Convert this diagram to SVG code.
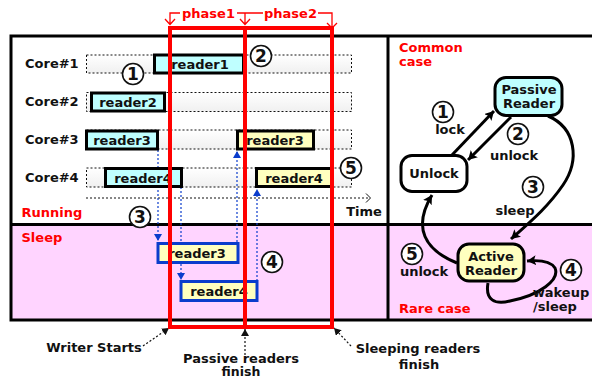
<svg xmlns="http://www.w3.org/2000/svg" width="592" height="379" viewBox="0 0 592 379">
<style>
text{font-family:"DejaVu Sans",Verdana,sans-serif;font-weight:700;font-size:13px;fill:#111;text-anchor:middle}
.l{text-anchor:start}
.red{fill:#f00;text-anchor:start}
.ph{fill:#f00;font-size:13px;text-anchor:start}
.lane{fill:url(#g);stroke:#111;stroke-width:1;stroke-dasharray:2 2}
.rc{fill:#bfffff;stroke:#000;stroke-width:3}
.ry{fill:#ffffbf;stroke:#000;stroke-width:3}
.rb{fill:#ffffbf;stroke:#0a3ccc;stroke-width:3}
.blue{fill:none;stroke:#0a3ccc;stroke-width:1.2;stroke-dasharray:2 2}
.blk{fill:none;stroke:#000;stroke-width:3}
.dash{fill:none;stroke:#111;stroke-width:1.2;stroke-dasharray:2 2}
.brk{fill:none;stroke:#f00;stroke-width:1.3}
.c{fill:#fff;stroke:#111;stroke-width:1.6}
.n{font-size:17px}
</style>
<defs>
<linearGradient id="g" x1="0" y1="0" x2="0" y2="1"><stop offset="0" stop-color="#fff"/><stop offset="1" stop-color="#f0f0f0"/></linearGradient>
<marker id="ab" markerUnits="userSpaceOnUse" markerWidth="10" markerHeight="8" refX="7" refY="4" orient="auto"><path d="M0 0L7 4L0 8z" fill="#0a3ccc"/></marker>
<marker id="ak" markerUnits="userSpaceOnUse" markerWidth="12" markerHeight="10" refX="9" refY="5" orient="auto"><path d="M0 0L9 5L0 10L2 5z" fill="#000"/></marker>
<marker id="ad" markerUnits="userSpaceOnUse" markerWidth="9" markerHeight="8" refX="7" refY="4" orient="auto"><path d="M0 0L7 4L0 8z" fill="#111"/></marker>
</defs>

<g id="panels">
<rect x="11" y="224" width="581" height="96" fill="#ffd4ff"/>
<path d="M592 36H11V320H592M388 36V320M11 224.500H592" fill="none" stroke="#000" stroke-width="3"/>
</g>

<g id="lanes">
<rect class="lane" x="86.500" y="55" width="265" height="18"/>
<rect class="lane" x="86.500" y="92.500" width="265" height="19"/>
<rect class="lane" x="86.500" y="130" width="265" height="19"/>
<rect class="lane" x="86.500" y="168" width="265" height="19"/>
</g>

<g id="labels-left">
<text class="l" x="25" y="68">Core#1</text>
<text class="l" x="25" y="106">Core#2</text>
<text class="l" x="25" y="144">Core#3</text>
<text class="l" x="25" y="182">Core#4</text>
<text class="red" x="21.500" y="217">Running</text>
<text class="red" x="21.500" y="242">Sleep</text>
<text x="364" y="216">Time</text>
</g>

<g id="connectors">
<path class="dash" d="M86 198H369"/>
<path d="M366 193.500L370.500 198L366 202.500" fill="none" stroke="#111" stroke-width="1"/>
<path class="blue" d="M158 150V241" marker-end="url(#ab)"/>
<path class="blue" d="M181 187V243M181 264V280" marker-end="url(#ab)"/>
<path class="blue" d="M237 242V151" marker-end="url(#ab)"/>
<path class="blue" d="M257 281V189" marker-end="url(#ab)"/>
<path class="dash" d="M143 346L169 328" marker-end="url(#ad)"/>
<path class="dash" d="M245 355V329" marker-end="url(#ad)"/>
<path class="dash" d="M351 346L334 328" marker-end="url(#ad)"/>
<path class="blk" d="M452 155L494 111" marker-end="url(#ak)"/>
<path class="blk" d="M511 117L468 160" marker-end="url(#ak)"/>
<path class="blk" d="M548 116C576 128 580 160 563 185C548 207 530 222 511 239" marker-end="url(#ak)"/>
<path class="blk" d="M457 263C425 250 412 228 432 195" marker-end="url(#ak)"/>
<path class="blk" d="M488 283C485 300 495 305 510 301C540 295 560 280 555 268C550 260 538 260 527 261" marker-end="url(#ak)"/>
</g>

<g id="reader1"><rect class="rc" x="154.500" y="55" width="89" height="18"/><text x="200" y="69">reader1</text></g>
<g id="reader2"><rect class="rc" x="91.500" y="93" width="73" height="18"/><text x="128" y="107">reader2</text></g>
<g id="reader3-run"><rect class="rc" x="86.500" y="131" width="71" height="18"/><text x="122" y="145">reader3</text></g>
<g id="reader4-run"><rect class="rc" x="105.500" y="168.500" width="76" height="18"/><text x="143" y="183">reader4</text></g>
<g id="reader3-wake"><rect class="ry" x="237.500" y="131" width="76" height="18"/><text x="275" y="145">reader3</text></g>
<g id="reader4-wake"><rect class="ry" x="256.500" y="168.500" width="76" height="18"/><text x="294" y="183">reader4</text></g>
<g id="reader3-sleep"><rect class="rb" x="158" y="243.500" width="80" height="19"/><text x="197" y="258">reader3</text></g>
<g id="reader4-sleep"><rect class="rb" x="181" y="281.500" width="76" height="19"/><text x="219" y="296">reader4</text></g>

<g id="phases">
<path d="M170 28H332V327H170zM245 28V327" fill="none" stroke="#f00" stroke-width="4"/>
<path class="brk" d="M180 13H170V24M165 19L170 24.500L175 19M237 13H263M245 13V24M240 19L245 24.500L250 19M318 13H332V27M327 23L332 28L337 23"/>
<text class="ph" x="182" y="18">phase1</text>
<text class="ph" x="264" y="18">phase2</text>
</g>

<g id="num1"><circle class="c" cx="133" cy="74" r="10.500"/><text class="n" x="133" y="80">1</text></g>
<g id="num2"><circle class="c" cx="261" cy="56" r="10.500"/><text class="n" x="261" y="62">2</text></g>
<g id="num3"><circle class="c" cx="140" cy="217" r="10.500"/><text class="n" x="140" y="223">3</text></g>
<g id="num4"><circle class="c" cx="272" cy="262" r="10.500"/><text class="n" x="272" y="268">4</text></g>
<g id="num5"><circle class="c" cx="351" cy="168" r="10.500"/><text class="n" x="351" y="174">5</text></g>

<g id="labels-bottom">
<text x="94" y="352">Writer Starts</text>
<text x="241" y="363">Passive readers</text>
<text x="241" y="375.500" style="font-size:12.500px">finish</text>
<text x="418" y="353">Sleeping readers</text>
<text x="419" y="369">finish</text>
</g>

<g id="labels-right">
<text class="red" x="399" y="52">Common</text>
<text class="red" x="399" y="65.500">case</text>
<text class="red" x="399" y="313">Rare case</text>
</g>

<g id="passive"><rect x="495" y="77.500" width="67" height="38" rx="11" fill="#bfffff" stroke="#000" stroke-width="3"/><text x="529" y="94">Passive</text><text x="529" y="108">Reader</text></g>
<g id="unlock"><rect x="401" y="155.500" width="66" height="36" rx="11" fill="#fff" stroke="#000" stroke-width="3"/><text x="434" y="178">Unlock</text></g>
<g id="active"><rect x="458" y="244" width="66" height="37" rx="11" fill="#ffffbf" stroke="#000" stroke-width="3"/><text x="491" y="261">Active</text><text x="491" y="275">Reader</text></g>

<g id="diagram-labels">
<circle class="c" cx="443" cy="112" r="10.500"/><text class="n" x="443" y="118">1</text>
<text x="450" y="134">lock</text>
<circle class="c" cx="518" cy="134" r="10.500"/><text class="n" x="518" y="140">2</text>
<text x="514" y="160">unlock</text>
<circle class="c" cx="533" cy="187" r="10.500"/><text class="n" x="533" y="193">3</text>
<text x="515" y="215">sleep</text>
<circle class="c" cx="412" cy="254" r="10.500"/><text class="n" x="412" y="260">5</text>
<text x="424" y="276">unlock</text>
<circle class="c" cx="571" cy="270" r="10.500"/><text class="n" x="571" y="276">4</text>
<text x="561" y="297">wakeup</text>
<text x="555" y="311">/sleep</text>
</g>
</svg>
